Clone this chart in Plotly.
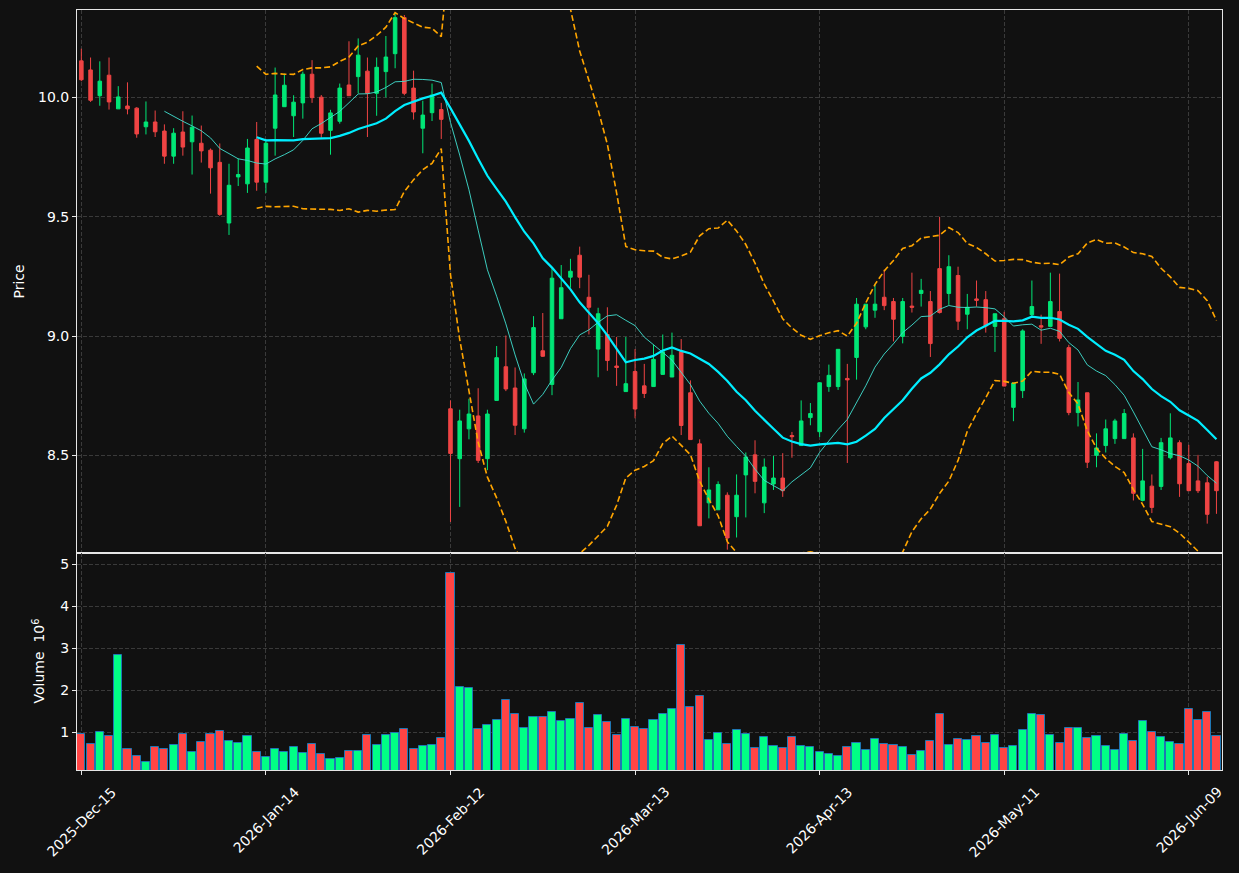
import pandas as pd
import numpy as np
import plotly.graph_objects as go
from plotly.subplots import make_subplots

# ---- trading calendar (categories) ----
holidays = ["2025-12-25", "2026-01-01", "2026-01-19", "2026-02-16", "2026-04-03", "2026-05-25"]
dates = pd.bdate_range("2025-12-15", "2026-06-12", freq="C", holidays=holidays)
labels = [d.strftime("%Y-%b-%d") for d in dates]

# ---- OHLC data ----
opens = [10.153, 10.115, 10.007, 10.093, 9.952, 9.964, 9.955, 9.877, 9.897, 9.859,
         9.754, 9.855, 9.814, 9.808, 9.779, 9.728, 9.474, 9.667, 9.638, 9.824,
         9.645, 9.871, 9.961, 9.923, 9.977, 10.097, 10.001, 9.862, 9.900, 10.052,
         10.087, 10.110, 10.017, 10.108, 10.183, 10.334, 10.039, 9.871, 9.936, 9.949,
         8.696, 8.487, 8.612, 8.666, 8.487, 8.731, 8.872, 8.783, 8.612, 8.847,
         8.939, 8.798, 9.073, 9.247, 9.339, 9.163, 8.946, 9.007, 8.875, 8.768,
         8.852, 8.792, 8.789, 8.840, 8.829, 8.935, 8.763, 8.549, 8.302, 8.273,
         8.334, 8.244, 8.419, 8.503, 8.302, 8.381, 8.406, 8.584, 8.542, 8.659,
         8.600, 8.789, 8.789, 8.823, 8.911, 9.039, 9.109, 9.163, 9.145, 8.999,
         9.126, 9.179, 9.145, 9.283, 9.179, 9.254, 9.092, 9.156, 9.153, 9.041,
         9.073, 8.702, 8.772, 9.090, 9.044, 9.041, 9.103, 8.952, 8.680, 8.763,
         8.501, 8.542, 8.571, 8.571, 8.574, 8.312, 8.372, 8.371, 8.491, 8.554,
         8.467, 8.394, 8.386, 8.474]
highs = [10.204, 10.167, 10.151, 10.167, 10.047, 10.063, 9.959, 9.983, 9.945, 9.887,
         9.871, 9.942, 9.924, 9.882, 9.786, 9.807, 9.722, 9.744, 9.826, 9.897,
         9.826, 10.125, 10.100, 10.009, 10.108, 10.156, 10.010, 9.948, 10.058, 10.235,
         10.247, 10.167, 10.167, 10.257, 10.352, 10.345, 10.112, 9.986, 10.058, 9.977,
         8.731, 8.692, 8.738, 8.782, 8.692, 8.959, 9.003, 8.869, 8.844, 9.084,
         9.097, 9.286, 9.298, 9.324, 9.375, 9.257, 9.119, 9.121, 8.997, 8.997,
         8.946, 8.884, 8.964, 9.007, 9.015, 8.988, 8.815, 8.568, 8.451, 8.392,
         8.346, 8.421, 8.513, 8.564, 8.488, 8.499, 8.510, 8.599, 8.731, 8.720,
         8.805, 8.881, 8.945, 8.884, 9.160, 9.134, 9.218, 9.279, 9.160, 9.160,
         9.266, 9.240, 9.189, 9.500, 9.339, 9.291, 9.177, 9.233, 9.189, 9.094,
         9.102, 8.804, 9.029, 9.233, 9.090, 9.266, 9.262, 8.964, 8.808, 8.763,
         8.593, 8.651, 8.654, 8.695, 8.593, 8.528, 8.421, 8.574, 8.677, 8.564,
         8.545, 8.503, 8.411, 8.477]
lows = [10.068, 9.981, 9.965, 9.949, 9.952, 9.929, 9.831, 9.845, 9.834, 9.722,
        9.722, 9.756, 9.677, 9.727, 9.597, 9.504, 9.424, 9.629, 9.600, 9.609,
        9.600, 9.756, 9.961, 9.834, 9.911, 9.977, 9.831, 9.760, 9.890, 10.006,
        10.017, 9.834, 9.923, 10.000, 10.122, 10.009, 9.907, 9.766, 9.901, 9.826,
        8.222, 8.285, 8.568, 8.469, 8.439, 8.731, 8.770, 8.586, 8.596, 8.837,
        8.913, 8.753, 9.073, 9.203, 9.201, 9.007, 8.828, 8.855, 8.792, 8.768,
        8.656, 8.741, 8.789, 8.840, 8.829, 8.586, 8.567, 8.206, 8.237, 8.273,
        8.106, 8.157, 8.241, 8.342, 8.259, 8.356, 8.327, 8.491, 8.542, 8.627,
        8.578, 8.767, 8.775, 8.469, 8.818, 9.029, 9.077, 9.109, 8.978, 8.970,
        9.099, 9.124, 8.913, 9.095, 9.131, 9.026, 9.029, 9.124, 9.015, 8.934,
        8.791, 8.644, 8.741, 9.084, 8.968, 9.041, 8.978, 8.669, 8.622, 8.448,
        8.451, 8.513, 8.549, 8.571, 8.312, 8.308, 8.259, 8.356, 8.484, 8.327,
        8.353, 8.343, 8.215, 8.256]
closes = [10.074, 9.988, 10.068, 9.981, 10.002, 9.952, 9.847, 9.897, 9.856, 9.754,
          9.850, 9.792, 9.875, 9.776, 9.705, 9.510, 9.632, 9.677, 9.788, 9.645,
          9.808, 10.010, 10.051, 9.980, 10.097, 9.999, 9.850, 9.935, 10.039, 10.007,
          10.177, 10.017, 10.126, 10.169, 10.334, 10.017, 9.939, 9.926, 10.010, 9.908,
          8.509, 8.645, 8.674, 8.480, 8.674, 8.910, 8.779, 8.627, 8.821, 9.036,
          8.916, 9.243, 9.203, 9.272, 9.247, 9.121, 9.094, 8.898, 8.869, 8.801,
          8.695, 8.760, 8.903, 8.935, 8.920, 8.626, 8.567, 8.206, 8.356, 8.379,
          8.155, 8.334, 8.494, 8.392, 8.452, 8.406, 8.353, 8.579, 8.645, 8.676,
          8.805, 8.836, 8.945, 8.817, 9.134, 9.134, 9.134, 9.128, 9.071, 9.145,
          9.121, 9.192, 8.969, 9.099, 9.291, 9.063, 9.121, 9.150, 9.043, 9.094,
          8.791, 8.804, 9.022, 9.124, 9.038, 9.145, 8.991, 8.680, 8.733, 8.472,
          8.532, 8.612, 8.645, 8.676, 8.342, 8.394, 8.283, 8.554, 8.574, 8.382,
          8.353, 8.353, 8.254, 8.353]
# volume in millions
volumes = [0.952, 0.714, 1.000, 0.905, 2.833, 0.595, 0.428, 0.285, 0.643, 0.595,
           0.690, 0.952, 0.524, 0.762, 0.952, 1.024, 0.786, 0.738, 0.905, 0.524,
           0.420, 0.595, 0.524, 0.643, 0.500, 0.714, 0.476, 0.357, 0.381, 0.548,
           0.548, 0.929, 0.690, 0.929, 0.976, 1.071, 0.595, 0.667, 0.690, 0.857,
           4.785, 2.071, 2.047, 1.071, 1.166, 1.286, 1.762, 1.428, 1.095, 1.357,
           1.357, 1.476, 1.262, 1.309, 1.690, 1.095, 1.405, 1.238, 0.929, 1.309,
           1.119, 1.071, 1.286, 1.428, 1.547, 3.071, 1.595, 1.857, 0.810, 0.976,
           0.714, 1.048, 0.952, 0.619, 0.881, 0.667, 0.619, 0.881, 0.667, 0.643,
           0.524, 0.476, 0.428, 0.643, 0.738, 0.571, 0.833, 0.714, 0.690, 0.643,
           0.452, 0.548, 0.786, 1.428, 0.690, 0.833, 0.810, 0.905, 0.738, 0.929,
           0.619, 0.667, 1.048, 1.428, 1.405, 0.929, 0.738, 1.095, 1.095, 0.857,
           0.905, 0.667, 0.571, 0.952, 0.786, 1.262, 1.000, 0.881, 0.762, 0.714,
           1.547, 1.286, 1.476, 0.905]

# ---- derived indicators ----
cs = pd.Series(closes)
ma10 = cs.rolling(10).mean()
ma20 = cs.rolling(20).mean()
sd20 = cs.rolling(20).std(ddof=0)
bb_up = ma20 + 2 * sd20
bb_lo = ma20 - 2 * sd20

# ---- styles ----
BG = "#111111"
UP = "#00e676"
DN = "#ef4444"
VUP = "#00ff85"
VDN = "#ff4444"
GRID = "#3a3a3a"
FRAME = "#e6e6e6"
FONT = "DejaVu Sans"

fig = make_subplots(rows=2, cols=1, shared_xaxes=True, vertical_spacing=0,
                    row_heights=[543 / 760, 217 / 760])

fig.add_trace(go.Candlestick(
    x=labels, open=opens, high=highs, low=lows, close=closes,
    increasing=dict(line=dict(color=UP, width=1), fillcolor=UP),
    decreasing=dict(line=dict(color=DN, width=1), fillcolor=DN),
    whiskerwidth=0, showlegend=False, hoverinfo="skip"), row=1, col=1)

fig.add_trace(go.Scatter(x=labels, y=ma10, mode="lines",
                         line=dict(color="rgba(64,224,208,0.9)", width=1),
                         showlegend=False, hoverinfo="skip"), row=1, col=1)
fig.add_trace(go.Scatter(x=labels, y=ma20, mode="lines",
                         line=dict(color="#00eeff", width=2.2),
                         showlegend=False, hoverinfo="skip"), row=1, col=1)
for band in (bb_up, bb_lo):
    fig.add_trace(go.Scatter(x=labels, y=band, mode="lines",
                             line=dict(color="#ffa500", width=1.6, dash="6px,3px"),
                             showlegend=False, hoverinfo="skip"), row=1, col=1)

vcolors = [VUP if c >= o else VDN for o, c in zip(opens, closes)]
fig.add_trace(go.Bar(x=labels, y=volumes, width=0.88,
                     marker=dict(color=vcolors, line=dict(color="#1f77b4", width=1)),
                     showlegend=False, hoverinfo="skip"), row=2, col=1)

tickcats = labels[::20]
xcommon = dict(type="category", range=[-0.47, 123.6], showgrid=True, gridcolor=GRID,
               griddash="4px,2px", gridwidth=1, tickvals=tickcats, showline=True,
               mirror=True, linecolor=FRAME, linewidth=1, zeroline=False,
               rangeslider=dict(visible=False), showticklabels=False)
fig.update_xaxes(**xcommon)
fig.update_xaxes(ticks="", row=1, col=1)
fig.update_xaxes(ticks="outside", ticklen=4, tickcolor=FRAME, row=2, col=1)

ycommon = dict(showgrid=True, gridcolor=GRID, griddash="4px,2px", gridwidth=1,
               showline=True, mirror=True, linecolor=FRAME, linewidth=1, zeroline=False,
               ticks="outside", ticklen=4, tickcolor=FRAME,
               tickfont=dict(family=FONT, size=14, color="white"))
fig.update_yaxes(**ycommon)
fig.update_yaxes(range=[8.092, 10.366], tickvals=[8.5, 9.0, 9.5, 10.0], tickformat=".1f",
                 row=1, col=1)
fig.update_yaxes(range=[0.103, 5.27], tickvals=[1, 2, 3, 4, 5], row=2, col=1)

annotations = []
for lab in tickcats:
    annotations.append(dict(x=lab, y=0, xref="x2", yref="paper", text=lab, showarrow=False,
                            textangle=-45, xanchor="center", yanchor="top", yshift=-11,
                            font=dict(family=FONT, size=14, color="white")))
annotations.append(dict(x=-0.0515, y=(1 + 217 / 760) / 2, xref="paper", yref="paper",
                        text="Price", showarrow=False, textangle=-90,
                        xanchor="center", yanchor="middle",
                        font=dict(family=FONT, size=14, color="white")))
annotations.append(dict(x=-0.034, y=(217 / 760) / 2, xref="paper", yref="paper",
                        text="Volume  10<sup>6</sup>", showarrow=False, textangle=-90,
                        xanchor="center", yanchor="middle",
                        font=dict(family=FONT, size=14, color="white")))

fig.update_layout(width=1239, height=873, paper_bgcolor=BG, plot_bgcolor=BG,
                  margin=dict(l=77, r=17, t=10, b=103), showlegend=False,
                  boxgap=0.45, bargap=0, hovermode=False,
                  font=dict(family=FONT, size=14, color="white"),
                  annotations=annotations)

fig.write_html("out.html")
